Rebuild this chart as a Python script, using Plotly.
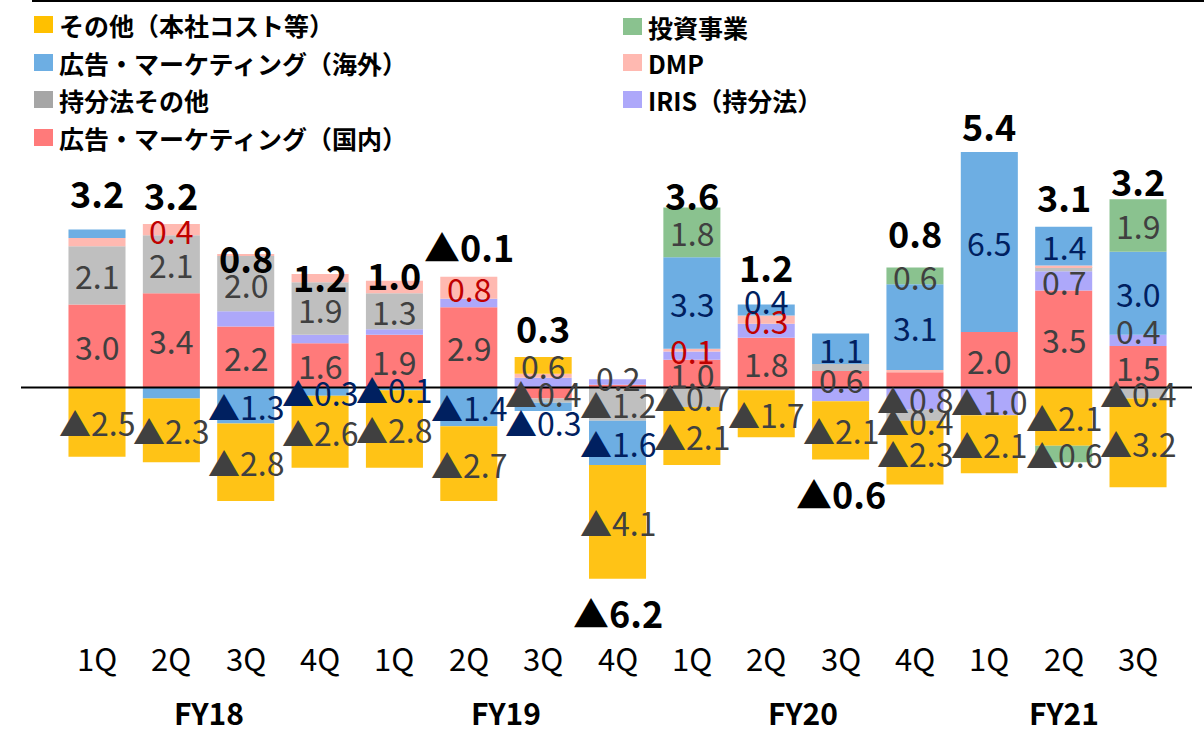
import numpy as np
import plotly.graph_objects as go

# ---- data -------------------------------------------------------------
quarters = ["1Q", "2Q", "3Q", "4Q", "1Q", "2Q", "3Q", "4Q",
            "1Q", "2Q", "3Q", "4Q", "1Q", "2Q", "3Q"]
fiscal_years = ["FY18", "FY19", "FY20", "FY21"]

# segment values (億円) per quarter
ad_domestic = [3.0, 3.4, 2.2, 1.6, 1.9, 2.9, -0.4, 0.1, 1.0, 1.8, 0.6, 0.55, 2.0, 3.5, 1.5]
iris = [0.0, 0.0, 0.55, 0.3, 0.2, 0.3, 0.35, 0.2, 0.3, 0.5, -0.5, -0.8, -1.0, 0.7, 0.4]
equity_other = [2.1, 2.1, 2.0, 1.9, 1.3, 0.0, -0.15, -1.2, -0.7, -0.1, 0.25, -0.4, 0.0, 0.15, -0.4]
dmp = [0.3, 0.4, 0.05, 0.3, 0.45, 0.8, 0.15, 0.0, 0.1, 0.3, 0.0, 0.08, 0.0, 0.05, 0.0]
ad_overseas = [0.3, -0.4, -1.3, -0.3, -0.1, -1.4, -0.3, -1.6, 3.3, 0.4, 1.1, 3.1, 6.5, 1.4, 3.0]
other_hq = [-2.5, -2.3, -2.8, -2.6, -2.8, -2.7, 0.6, -4.1, -2.1, -1.7, -2.1, -2.3, -2.1, -2.1, -3.2]
investment = [0.0, 0.0, 0.0, 0.0, 0.0, 0.0, 0.0, 0.0, 1.8, 0.0, 0.0, 0.6, 0.0, -0.6, 1.9]
net_totals = [3.2, 3.2, 0.8, 1.2, 1.0, -0.1, 0.3, -6.2, 3.6, 1.2, -0.6, 0.8, 5.4, 3.1, 3.2]

# which segments carry a value label (1 = labelled)
lab_domestic = [1, 1, 1, 1, 1, 1, 1, 0, 1, 1, 1, 0, 1, 1, 1]
lab_iris = [0, 0, 0, 0, 0, 0, 0, 1, 0, 0, 0, 1, 1, 1, 1]
lab_equity = [1, 1, 1, 1, 1, 0, 0, 1, 1, 0, 0, 1, 0, 0, 1]
lab_dmp = [0, 1, 0, 0, 0, 1, 0, 0, 1, 1, 0, 0, 0, 0, 0]
lab_overseas = [0, 0, 1, 1, 1, 1, 1, 1, 1, 1, 1, 1, 1, 1, 1]
lab_other = [1] * 15
lab_investment = [1] * 15

# ---- styling / layout -------------------------------------------------
W, H = 1204, 734
FONT = "Noto Sans CJK JP"
PX_PER_CAT = 74.36          # horizontal pixels per quarter
PX_PER_UNIT = 27.7          # vertical pixels per 1.0
X0_PX, ZERO_PX = 97.0, 387.5

x_lo = -X0_PX / PX_PER_CAT
x_hi = x_lo + W / PX_PER_CAT
y_hi = ZERO_PX / PX_PER_UNIT
y_lo = -(H - ZERO_PX) / PX_PER_UNIT

LABEL_GRAY = "#404040"
NAVY = "#002060"
DARK_RED = "#C00000"

SEG_SIZE = 32
TOTAL_SIZE = 36
TICK_SIZE = 31
FY_SIZE = 30
LEGEND_SIZE = 25

# stacking order (bottom-up for positives, top-down for negatives)
series = [
    ("広告・マーケティング（国内）", ad_domestic, "#FF7A7A", LABEL_GRAY, lab_domestic),
    ("IRIS（持分法）", iris, "#ADA8FA", LABEL_GRAY, lab_iris),
    ("持分法その他", equity_other, "#BFBFBF", LABEL_GRAY, lab_equity),
    ("DMP", dmp, "#FFB9B1", DARK_RED, lab_dmp),
    ("広告・マーケティング（海外）", ad_overseas, "#6DAEE3", NAVY, lab_overseas),
    ("その他（本社コスト等）", other_hq, "#FFC316", LABEL_GRAY, lab_other),
    ("投資事業", investment, "#8AC28F", LABEL_GRAY, lab_investment),
]

# small vertical nudges (pixels, + = down) for crowded labels
label_nudge = {(4, 6): 15, (4, 9): -10, (1, 14): -10, (2, 11): 6, (1, 7): -5}

# vertical positions of the net total labels (value units)
total_label_y = [7.05, 7.0, 4.7, 4.04, 4.1, 5.1, 2.2, -8.1,
                 7.0, 4.4, -3.8, 5.6, 9.46, 6.9, 7.5]

x = np.arange(len(quarters))


def fmt(v):
    return ("▲" if v < 0 else "") + f"{abs(v):.1f}"


fig = go.Figure()
annotations = []
pos_base = np.zeros(len(x))
neg_base = np.zeros(len(x))

for si, (name, vals, color, lcolor, flags) in enumerate(series):
    vals = np.asarray(vals, dtype=float)
    fig.add_trace(go.Bar(
        x=x, y=vals, name=name, width=0.767,
        marker=dict(color=color, line=dict(width=0)),
        hoverinfo="skip", showlegend=False,
    ))
    for i, v in enumerate(vals):
        if v >= 0:
            center = pos_base[i] + v / 2
            pos_base[i] += v
        else:
            center = neg_base[i] + v / 2
            neg_base[i] += v
        if v != 0 and flags[i]:
            dy = label_nudge.get((si, i), 0) / PX_PER_UNIT
            annotations.append(dict(
                x=i, y=center - dy, xref="x", yref="y", text=fmt(v),
                showarrow=False, xanchor="center", yanchor="middle",
                font=dict(family=FONT, size=SEG_SIZE, color=lcolor),
            ))

# net totals
for i, t in enumerate(net_totals):
    annotations.append(dict(
        x=i, y=total_label_y[i], xref="x", yref="y", text=f"<b>{fmt(t)}</b>",
        showarrow=False, xanchor="center", yanchor="middle",
        font=dict(family=FONT, size=TOTAL_SIZE, color="#000000"),
    ))

# category labels
q_y = (ZERO_PX - 657) / PX_PER_UNIT
fy_y = (ZERO_PX - 712) / PX_PER_UNIT
for i, q in enumerate(quarters):
    annotations.append(dict(
        x=i, y=q_y, xref="x", yref="y", text=q, showarrow=False,
        xanchor="center", yanchor="middle",
        font=dict(family=FONT, size=TICK_SIZE, color="#000000"),
    ))
fy_centers = [1.5, 5.5, 9.5, 13.0]
for fy, cx in zip(fiscal_years, fy_centers):
    annotations.append(dict(
        x=cx, y=fy_y, xref="x", yref="y", text=f"<b>{fy}</b>", showarrow=False,
        xanchor="center", yanchor="middle",
        font=dict(family=FONT, size=FY_SIZE, color="#000000"),
    ))


def px_x(p):
    return p / W


def px_y(p):
    return 1 - p / H


shapes = [
    # zero baseline
    dict(type="line", xref="paper", yref="y", x0=px_x(21), x1=px_x(1192), y0=0, y1=0,
         line=dict(color="#000000", width=2), layer="above"),
    # top rule
    dict(type="line", xref="paper", yref="paper", x0=px_x(32), x1=px_x(1204),
         y0=px_y(1), y1=px_y(1), line=dict(color="#000000", width=2)),
]

# legend (two columns)
legend_items = [
    ("その他（本社コスト等）", "#FFC000", 34, 25),
    ("広告・マーケティング（海外）", "#6DAEE3", 34, 63),
    ("持分法その他", "#A6A6A6", 34, 100),
    ("広告・マーケティング（国内）", "#FF7A7A", 34, 138),
    ("投資事業", "#8AC28F", 623, 27),
    ("DMP", "#FFB9B1", 623, 63),
    ("IRIS（持分法）", "#ADA8FA", 623, 100),
]
for text, color, lx, ly in legend_items:
    shapes.append(dict(type="rect", xref="paper", yref="paper",
                       x0=px_x(lx), x1=px_x(lx + 19), y0=px_y(ly - 9), y1=px_y(ly + 8),
                       fillcolor=color, line=dict(width=0)))
    annotations.append(dict(
        x=px_x(lx + 23), y=px_y(ly), xref="paper", yref="paper", text=f"<b>{text}</b>",
        showarrow=False, xanchor="left", yanchor="middle",
        font=dict(family=FONT, size=LEGEND_SIZE, color="#000000"),
    ))

fig.update_layout(
    width=W, height=H, autosize=False,
    margin=dict(l=0, r=0, t=0, b=0, pad=0),
    barmode="relative",
    plot_bgcolor="#FFFFFF", paper_bgcolor="#FFFFFF",
    xaxis=dict(range=[x_lo, x_hi], visible=False, fixedrange=True),
    yaxis=dict(range=[y_lo, y_hi], visible=False, fixedrange=True),
    showlegend=False,
    annotations=annotations,
    shapes=shapes,
    font=dict(family=FONT),
)

fig.write_html("out.html", config={"displayModeBar": False})
